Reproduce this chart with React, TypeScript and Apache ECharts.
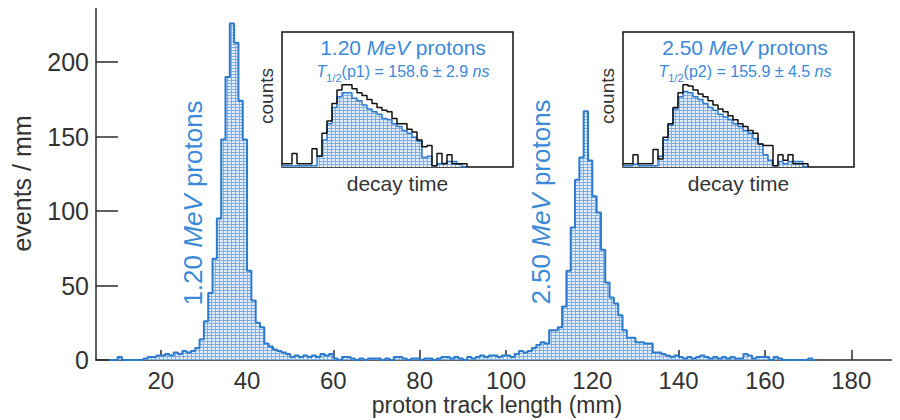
import React, { useEffect, useRef } from "react";
import * as echarts from "echarts";

// ---- main histogram: proton track length, 1 mm bins (left edges) ----
const binStart = 8;
const counts = [
  0, 0, 2, 0, 0, 0, 0, 0, 1, 2, // 8-17
  2, 3, 3, 4, 3, 5, 4, 6, 5, 6, // 18-27
  8, 14, 26, 45, 68, 95, 148, 190, 226, 213, // 28-37
  174, 148, 60, 40, 25, 22, 11, 9, 7, 6, // 38-47
  5, 4, 2, 3, 2, 3, 2, 3, 2, 4, // 48-57
  3, 4, 1, 0, 2, 2, 1, 0, 1, 0, // 58-67
  1, 1, 1, 0, 1, 0, 2, 2, 1, 0, // 68-77
  1, 1, 0, 1, 1, 0, 1, 2, 2, 1, // 78-87
  2, 1, 0, 2, 1, 2, 3, 2, 3, 3, // 88-97
  2, 3, 3, 2, 4, 6, 5, 6, 8, 10, // 98-107
  12, 11, 20, 20, 22, 36, 60, 89, 121, 136, // 108-117
  167, 134, 110, 99, 74, 52, 42, 38, 30, 20, // 118-127
  15, 15, 12, 12, 11, 11, 5, 5, 4, 3, // 128-137
  2, 3, 2, 1, 2, 1, 2, 3, 2, 1, // 138-147
  2, 1, 2, 1, 2, 1, 1, 4, 3, 1, // 148-157
  2, 2, 2, 0, 2, 1, 0, 0, 0, 0, // 158-167
  0, 0, 1, 0, // 168-171
];
const xTicks = [20, 40, 60, 80, 100, 120, 140, 160, 180];
const yTicks = [0, 50, 100, 150, 200];
const xTitle = "proton track length (mm)";

// ---- insets: decay-time histograms (bin index, arbitrary counts) ----
const inset1Total = [
  2.5, 2.5, 10, 2.5, 2.5, 2.5, 13.5, 8, 25, 34, 47, 57, 61, 61, 58, 55, 53, 50, 47,
  44, 42, 41, 36, 32, 32, 28, 26, 20, 15, 16, 1, 10, 2.5, 9, 2.5, 2.5, 2.5,
];
const inset1Fit = [
  1, 1, 1, 1, 1, 1, 1, 8, 20, 32, 44, 52, 55, 55, 51, 49, 46, 43, 41,
  39, 36, 35, 32, 30, 27, 25, 22, 19, 7, 8, 1, 2.5, 3, 4, 4, 2, 0,
];
const inset2Total = [
  2.5, 2.5, 9, 2.5, 2.5, 2.5, 13, 6, 22, 32, 44, 55, 61, 60, 57, 54, 52, 49, 46,
  43, 41, 38, 35, 32, 30, 27, 25, 17, 16, 16, 1, 9, 5, 9, 2.5, 2.5, 2.5,
];
const inset2Fit = [
  1, 1, 2, 1, 1, 1, 1, 8, 20, 31, 43, 52, 56, 55, 52, 50, 47, 44, 42,
  39, 37, 35, 32, 30, 27, 25, 21, 17, 9, 5, 1, 4, 2.5, 4, 4, 4, 0,
];

const BLUE = "#2d7bcf";
const TEXT_BLUE = "#3b8ad8";
const DARK = "#2a2a2a";
const FONT = "'Liberation Sans', Arial, Helvetica, sans-serif";

function toSteps(start: number, vals: number[]) {
  const d: number[][] = vals.map((v, i) => [start + i, v]);
  d.push([start + vals.length, 0]);
  return d;
}

function makePattern() {
  const c = document.createElement("canvas");
  c.width = 4;
  c.height = 3;
  const ctx = c.getContext("2d");
  if (ctx) {
    ctx.fillStyle = "#7fb0e4";
    ctx.fillRect(0, 0, 4, 3);
    ctx.fillStyle = "#e3eefa";
    ctx.fillRect(0, 0, 3, 2);
  }
  return { image: c, repeat: "repeat" } as any;
}

export default function App() {
  const ref = useRef<HTMLDivElement>(null);
  useEffect(() => {
    if (!ref.current) return;
    const chart = echarts.init(ref.current, null, { renderer: "svg" });
    const pattern = makePattern();

    const insetGrid = (left: number) => ({
      left,
      top: 32,
      width: 231,
      height: 135,
      show: true,
      outerBoundsMode: "none",
      backgroundColor: "#fff",
      borderColor: "#111",
      borderWidth: 1.5,
      z: 5,
    });
    const insetX = (gi: number) => ({
      type: "value",
      gridIndex: gi,
      min: 0,
      max: 46.2,
      axisLine: { show: false },
      axisTick: { show: false },
      axisLabel: { show: false },
      splitLine: { show: false },
      name: "decay time",
      nameLocation: "middle",
      nameGap: 6,
      nameTextStyle: { fontSize: 21, color: "#333", fontFamily: FONT, verticalAlign: "top" },
    });
    const insetY = (gi: number) => ({
      type: "value",
      gridIndex: gi,
      min: 0,
      max: 100,
      axisLine: { show: false },
      axisTick: { show: false },
      axisLabel: { show: false },
      splitLine: { show: false },
      name: "counts",
      nameLocation: "end",
      nameRotate: 90,
      nameGap: -36,
      nameTextStyle: { fontSize: 19, color: "#333", fontFamily: FONT, align: "right", verticalAlign: "bottom", padding: [0, 0, 6, 0] },
    });

    const insetSeries = (gi: number, fit: number[], total: number[]) => [
      {
        type: "line",
        xAxisIndex: gi,
        yAxisIndex: gi,
        step: "end",
        symbol: "none",
        data: toSteps(0, fit),
        lineStyle: { color: BLUE, width: 1.5 },
        areaStyle: { color: pattern, opacity: 1 },
        z: 6,
      },
      {
        type: "line",
        xAxisIndex: gi,
        yAxisIndex: gi,
        step: "end",
        symbol: "none",
        data: toSteps(0, total),
        lineStyle: { color: "#111", width: 1.5 },
        z: 7,
      },
    ];

    const rich = (size: number) => ({
      n: { fontSize: size, fontFamily: FONT, fill: TEXT_BLUE },
      i: { fontSize: size, fontFamily: FONT, fontStyle: "italic", fill: TEXT_BLUE },
    });
    const halfRich = {
      n: { fontSize: 16, fontFamily: FONT, fill: TEXT_BLUE, verticalAlign: "bottom", padding: [0, 0, 4, 0] },
      i: { fontSize: 16, fontFamily: FONT, fontStyle: "italic", fill: TEXT_BLUE, verticalAlign: "bottom", padding: [0, 0, 4, 0] },
      s: { fontSize: 11, fontFamily: FONT, fill: TEXT_BLUE, verticalAlign: "bottom", padding: [0, 0, 0, 0] },
    };

    const title = (x: number, y: number, energy: string) => ({
      type: "text",
      x,
      y,
      z: 20,
      style: {
        text: `{n|${energy} }{i|MeV}{n| protons}`,
        rich: rich(21),
        align: "center",
        verticalAlign: "middle",
      },
    });
    const half = (x: number, y: number, p: string, v: string) => ({
      type: "text",
      x,
      y,
      z: 20,
      style: {
        text: `{i|T}{s|1/2}{n|(${p}) = ${v} }{i|ns}`,
        rich: halfRich,
        align: "center",
        verticalAlign: "middle",
      },
    });
    const rotated = (x: number, y: number, energy: string) => ({
      type: "text",
      x,
      y,
      rotation: Math.PI / 2,
      z: 20,
      style: {
        text: `{n|${energy} }{i|MeV}{n| protons}`,
        rich: rich(26),
        align: "center",
        verticalAlign: "middle",
      },
    });

    chart.setOption({
      animation: false,
      backgroundColor: "#fff",
      grid: [
        { left: 96, top: 7, right: 3, bottom: 60, outerBoundsMode: "none" },
        insetGrid(282),
        insetGrid(623),
      ],
      xAxis: [
        {
          type: "value",
          min: 5,
          max: 190.6,
          axisLine: { lineStyle: { color: DARK, width: 1.5 } },
          axisTick: { inside: true, length: 10, customValues: xTicks, lineStyle: { color: DARK, width: 1.5 } },
          axisLabel: { customValues: xTicks, fontSize: 24, lineHeight: 24, color: "#333", fontFamily: FONT, margin: 8 },
          splitLine: { show: false },
        },
        insetX(1),
        insetX(2),
      ],
      yAxis: [
        {
          type: "value",
          min: 0,
          max: 237,
          name: "events / mm",
          nameLocation: "middle",
          nameRotate: 90,
          nameGap: 62,
          nameTextStyle: { fontSize: 25, color: "#333", fontFamily: FONT },
          axisLine: { show: true, lineStyle: { color: DARK, width: 1.5 } },
          axisTick: { show: true, inside: true, length: 22, customValues: yTicks, lineStyle: { color: DARK, width: 1.5 } },
          axisLabel: { customValues: yTicks, fontSize: 25, color: "#333", fontFamily: FONT, margin: 7 },
          splitLine: { show: false },
        },
        insetY(1),
        insetY(2),
      ],
      series: [
        {
          type: "line",
          step: "end",
          symbol: "none",
          data: toSteps(binStart, counts),
          lineStyle: { color: BLUE, width: 2 },
          areaStyle: { color: pattern, opacity: 1 },
          z: 3,
        },
        ...insetSeries(1, inset1Fit, inset1Total),
        ...insetSeries(2, inset2Fit, inset2Total),
      ],
      graphic: [
        { type: "line", shape: { x1: 96, y1: 7, x2: 900, y2: 7 }, style: { stroke: DARK, lineWidth: 1.5 }, z: 10 },
        {
          type: "text",
          x: 497,
          y: 405,
          z: 20,
          style: { text: xTitle, fontSize: 23, lineHeight: 23, fontFamily: FONT, fill: "#333", align: "center", verticalAlign: "middle" },
        },
        title(403, 47, "1.20"),
        half(403, 73, "p1", "158.6 ± 2.9"),
        title(745, 47, "2.50"),
        half(745, 73, "p2", "155.9 ± 4.5"),
        rotated(193, 203, "1.20"),
        rotated(541, 202, "2.50"),
      ],
    });
    return () => chart.dispose();
  }, []);
  return <div ref={ref} style={{ width: 900, height: 420, marginLeft: -8, marginTop: -8 }} />;
}
